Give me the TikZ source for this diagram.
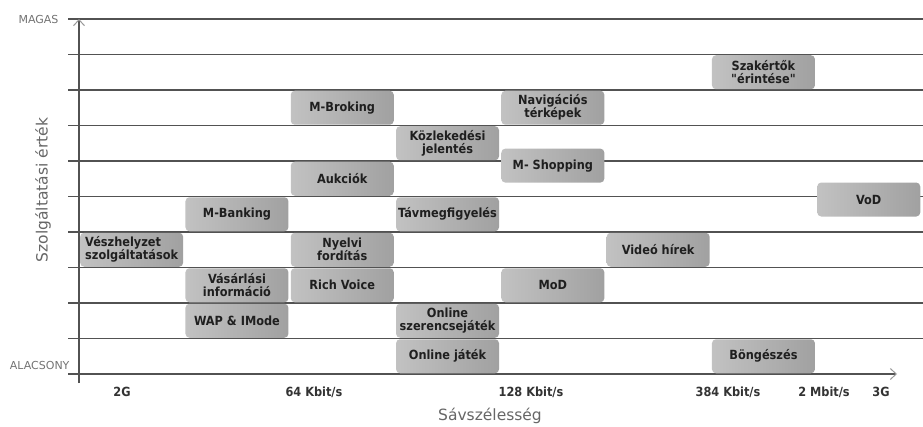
\documentclass[tikz,border=0pt]{standalone}
\usepackage{fontspec}
\setmainfont{DejaVu Sans}
\newfontfamily\boxfont{DejaVu Sans Condensed}
\usetikzlibrary{arrows.meta}

\tikzset{
  service box/.style={
    rounded corners=4pt,
    left color=black!24,
    right color=black!37,
    minimum width=103pt,
    minimum height=34pt,
    inner sep=1pt,
    align=center,
    text=black!88,
    font=\boxfont\bfseries\fontsize{12.6}{13}\selectfont
  },
  grid line/.style={black!68, line width=1.2pt},
  tick label/.style={text=black!80, font=\boxfont\bfseries\fontsize{12.6}{14}\selectfont},
  level label/.style={text=black!55, font=\fontsize{11}{12}\selectfont},
  axis title/.style={text=black!60, font=\fontsize{15.5}{18}\selectfont}
}

\begin{document}
\begin{tikzpicture}[
  x={(105.3pt,0pt)},
  y={(0pt,35.5pt)}
]
\useasboundingbox (-79pt,-52pt) rectangle (844pt,374pt);

\foreach \r in {1,2,...,10}
{
  \draw[grid line] (-11pt,\r) -- (844pt,\r);
}

% axes
\draw[grid line,
  -{Straight Barb[length=6pt,width=11pt,color=black!40,line width=1pt]}
]
(-11pt,0) -- (818pt,0);
\draw[grid line,
  -{Straight Barb[length=6pt,width=11pt,color=black!40,line width=1pt]}
]
(0,-9pt) -- (0,10);

\node[level label, anchor=east] (magas) at (-17pt,10) {MAGAS};
\node[level label, anchor=east] (alacsony) at (-6pt,9pt) {ALACSONY};

\node[axis title, rotate=90] (ertek) at (-36pt,184pt) {Szolgáltatási érték};
\node[axis title] (savszel) at (411pt,-42pt) {Sávszélesség};

\node[tick label] (g2) at (43pt,-18pt) {2G};
\node[tick label] (k64) at (235pt,-18pt) {64 Kbit/s};
\node[tick label] (k128) at (452pt,-18pt) {128 Kbit/s};
\node[tick label] (k384) at (649pt,-18pt) {384 Kbit/s};
\node[tick label] (m2) at (745pt,-18pt) {2 Mbit/s};
\node[tick label] (g3) at (802pt,-18pt) {3G};

% services
\node[service box, align=left] (vesz) at (.5,3.5) {Vészhelyzet\\szolgáltatások};

\node[service box] (mbank) at (1.5,4.5) {M-Banking};
\node[service box] (vasar) at (1.5,2.5) {Vásárlási\\információ};
\node[service box] (wap) at (1.5,1.5) {WAP \& IMode};

\node[service box] (mbrok) at (2.5,7.5) {M-Broking};
\node[service box] (aukc) at (2.5,5.5) {Aukciók};
\node[service box] (nyelv) at (2.5,3.5) {Nyelvi\\fordítás};
\node[service box] (rich) at (2.5,2.5) {Rich Voice};

\node[service box] (kozl) at (3.5,6.5) {Közlekedési\\jelentés};
\node[service box] (tavm) at (3.5,4.5) {Távmegfigyelés};
\node[service box] (szer) at (3.5,1.5) {Online\\szerencsejáték};
\node[service box] (jatek) at (3.5,.5) {Online játék};

\node[service box] (navi) at (4.5,7.5) {Navigációs\\térképek};
\node[service box] (shop) at (4.5,5.87) {M- Shopping};
\node[service box] (mod) at (4.5,2.5) {MoD};

\node[service box] (video) at (5.5,3.5) {Videó hírek};

\node[service box] (szak) at (6.5,8.5) {Szakértők\\"érintése"};
\node[service box] (bong) at (6.5,.5) {Böngészés};

\node[service box] (vod) at (7.5,4.915) {VoD};
\end{tikzpicture}
\end{document}
